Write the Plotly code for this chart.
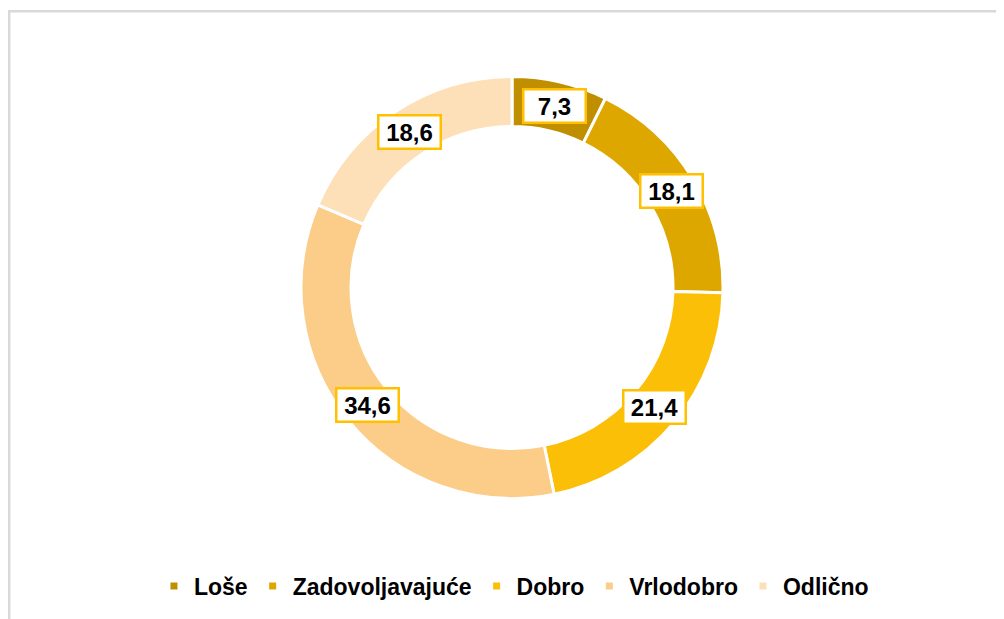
import math
import plotly.graph_objects as go

categories = ["Loše", "Zadovoljavajuće", "Dobro", "Vrlodobro", "Odlično"]
values = [7.3, 18.1, 21.4, 34.6, 18.6]
colors = ["#bf8f00", "#dda700", "#fcbf07", "#fbcd88", "#fde0b8"]

# page body adds an 8px margin; work in figure pixel coords
W, H = 996, 611
cx, cy, r_out = 504, 279.5, 211
hole = 0.763

fig = go.Figure()
fig.add_trace(go.Pie(
    labels=categories, values=values, sort=False, direction="clockwise", rotation=0,
    hole=hole, marker=dict(colors=colors, line=dict(color="white", width=3)),
    textinfo="none", hoverinfo="none", showlegend=False,
    domain=dict(x=[(cx - r_out) / W, (cx + r_out) / W],
                y=[1 - (cy + r_out) / H, 1 - (cy - r_out) / H]),
))

# legend entries
for name, col in zip(categories, colors):
    fig.add_trace(go.Scatter(x=[None], y=[None], mode="markers", name=name,
                             marker=dict(symbol="square", size=7, color=col),
                             showlegend=True, hoverinfo="skip"))

# data labels at middle of ring
total = sum(values)
r_mid = r_out * (1 + hole) / 2
cum = 0.0
for v in values:
    mid = (cum + v / 2) / total
    cum += v
    th = 2 * math.pi * mid
    px = cx + r_mid * math.sin(th)
    py = cy - r_mid * math.cos(th)
    fig.add_annotation(
        x=px / W, y=1 - py / H, xref="paper", yref="paper",
        text=f"<b>{v:.1f}</b>".replace(".", ","), showarrow=False,
        font=dict(family="Liberation Sans, Arial, sans-serif", size=24, color="black"),
        bgcolor="white", bordercolor="#ffc000", borderwidth=2.5, borderpad=1,
        width=58, height=29, align="center", valign="middle",
        xanchor="center", yanchor="middle",
    )

# outer frame
fig.add_shape(type="rect", xref="paper", yref="paper",
              x0=1.2 / W, x1=1.05, y0=-0.05, y1=1 - 3.2 / H,
              line=dict(color="#d9d9d9", width=2.5), fillcolor="rgba(0,0,0,0)")

fig.update_layout(
    width=W, height=H, margin=dict(l=0, r=0, t=0, b=0),
    paper_bgcolor="white", plot_bgcolor="white",
    xaxis=dict(visible=False), yaxis=dict(visible=False),
    legend=dict(orientation="h", x=0.508, xanchor="center", y=(H - 578) / H, yanchor="middle",
                font=dict(family="Liberation Sans, Arial, sans-serif", size=23, color="black", weight="bold"),
                itemclick=False, itemdoubleclick=False),
    font=dict(family="Liberation Sans, Arial, sans-serif"),
)

fig.write_html("out.html")
